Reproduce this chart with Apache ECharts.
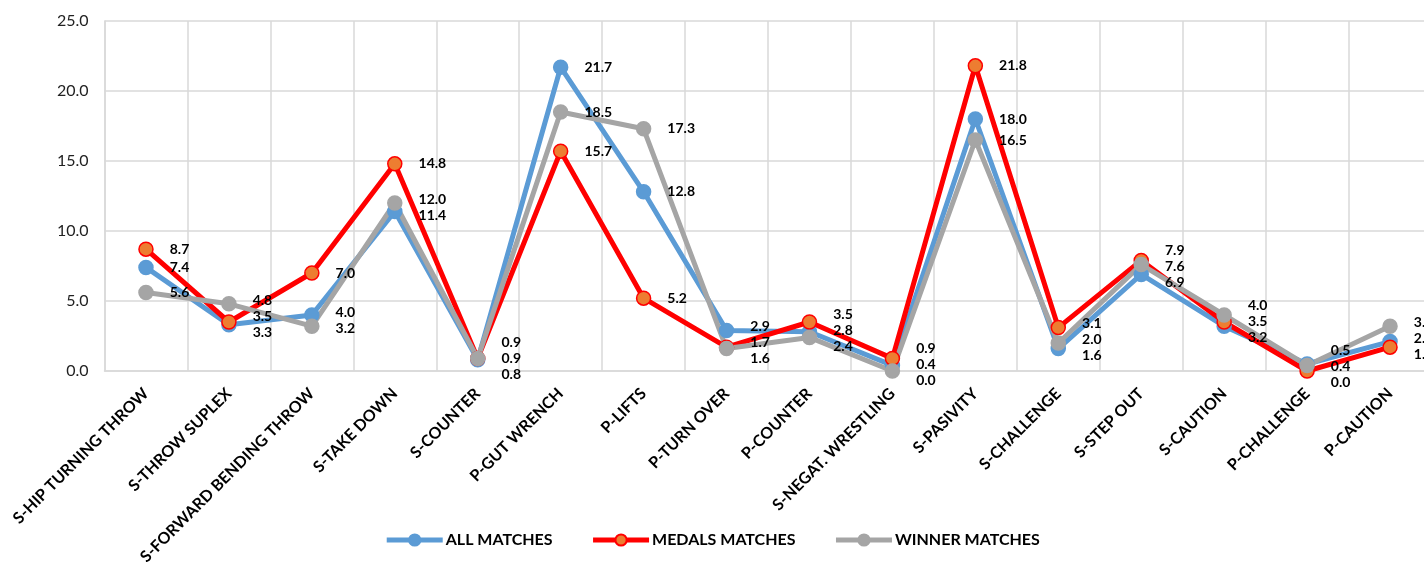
<!DOCTYPE html>
<html>
<head>
<meta charset="utf-8">
<script src="https://cdn.jsdelivr.net/npm/echarts@6/dist/echarts.min.js"></script>
<style>
  html, body { margin: 0; padding: 0; background: #fff; }
  #chart { width: 1424px; height: 563px; }
</style>
</head>
<body>
<div id="chart"></div>
<script>
  var categories = ['S-HIP TURNING THROW', 'S-THROW SUPLEX', 'S-FORWARD BENDING THROW', 'S-TAKE DOWN',
    'S-COUNTER', 'P-GUT WRENCH', 'P-LIFTS', 'P-TURN OVER', 'P-COUNTER', 'S-NEGAT. WRESTLING',
    'S-PASIVITY', 'S-CHALLENGE', 'S-STEP OUT', 'S-CAUTION', 'P-CHALLENGE', 'P-CAUTION']
  var allMatches = [7.4, 3.3, 4.0, 11.4, 0.8, 21.7, 12.8, 2.9, 2.8, 0.4, 18.0, 1.6, 6.9, 3.2, 0.5, 2.1]
  var medalsMatches = [8.7, 3.5, 7.0, 14.8, 0.9, 15.7, 5.2, 1.7, 3.5, 0.9, 21.8, 3.1, 7.9, 3.5, 0.0, 1.7]
  var winnerMatches = [5.6, 4.8, 3.2, 12.0, 0.9, 18.5, 17.3, 1.6, 2.4, 0.0, 16.5, 2.0, 7.6, 4.0, 0.4, 3.2]
  var seriesValues = [allMatches, medalsMatches, winnerMatches]

  var font = 'Lato, "Open Sans", sans-serif'
  var LABEL_H = 16

  var myChart = echarts.init(document.getElementById('chart'))

  // spread the three labels of one category apart so they don't overlap (like excel does)
  var labelShift = {}
  function computeShifts () {
    labelShift = {}
    for (var i = 0; i < categories.length; i++) {
      var items = []
      for (var s = 0; s < seriesValues.length; s++) {
        var py = myChart.convertToPixel({ yAxisIndex: 0 }, seriesValues[s][i])
        items.push({ s: s, y: py })
      }
      items.sort(function (a, b) { return a.y - b.y })
      var clusters = []
      items.forEach(function (it) {
        clusters.push({ items: [it], sum: it.y, start: it.y })
        while (clusters.length > 1) {
          var last = clusters[clusters.length - 1]
          var prev = clusters[clusters.length - 2]
          if (prev.start + prev.items.length * LABEL_H <= last.start) break
          var merged = { items: prev.items.concat(last.items), sum: prev.sum + last.sum }
          var n = merged.items.length
          merged.start = merged.sum / n - (n - 1) * LABEL_H / 2
          clusters.splice(clusters.length - 2, 2, merged)
        }
      })
      clusters.forEach(function (c) {
        c.items.forEach(function (it, k) {
          labelShift[it.s + '_' + i] = c.start + k * LABEL_H - it.y
        })
      })
    }
  }

  function makeSeries (name, data, lineColor, fillColor) {
    return {
      name: name,
      type: 'line',
      data: data,
      symbol: 'circle',
      symbolSize: 14,
      animation: false,
      lineStyle: { color: lineColor, width: 5 },
      itemStyle: { color: fillColor, borderColor: lineColor, borderWidth: 1.5 },
      label: {
        show: true,
        position: 'right',
        distance: 16,
        color: '#000',
        fontWeight: 'bold',
        fontSize: 14,
        fontFamily: font,
        formatter: function (p) { return p.value.toFixed(1) }
      },
      labelLayout: function (params) {
        var d = labelShift[params.seriesIndex + '_' + params.dataIndex] || 0
        return { dy: d }
      }
    }
  }

  var option = {
    backgroundColor: '#fff',
    grid: { left: 104.5, right: -7.5, top: 21, bottom: 192, containLabel: false, outerBoundsMode: 'none' },
    legend: {
      bottom: 10,
      left: 'center',
      itemWidth: 56,
      itemHeight: 14,
      itemGap: 38,
      lineStyle: { width: 5 },
      textStyle: { color: '#000', fontWeight: 'bold', fontSize: 16, fontFamily: font, padding: [0, 0, 0, -2] },
      data: ['ALL MATCHES', 'MEDALS MATCHES', 'WINNER MATCHES']
    },
    xAxis: {
      type: 'category',
      data: categories,
      boundaryGap: true,
      axisTick: { show: false },
      axisLine: { lineStyle: { color: '#D9D9D9', width: 1.5 } },
      splitLine: { show: true, lineStyle: { color: '#D9D9D9', width: 1.5 } },
      axisLabel: {
        interval: 0,
        rotate: 45,
        margin: 20,
        color: '#000',
        fontWeight: 'bold',
        fontSize: 16,
        fontFamily: font
      }
    },
    yAxis: {
      type: 'value',
      min: 0,
      max: 25,
      interval: 5,
      axisLine: { show: true, lineStyle: { color: '#D9D9D9', width: 1.5 } },
      axisTick: { show: false },
      splitLine: { lineStyle: { color: '#D9D9D9', width: 1.5 } },
      axisLabel: {
        margin: 16,
        color: '#222',
        fontSize: 16,
        fontFamily: font,
        formatter: function (v) { return v.toFixed(1) }
      }
    },
    series: [
      makeSeries('ALL MATCHES', allMatches, '#5B9BD5', '#5B9BD5'),
      makeSeries('MEDALS MATCHES', medalsMatches, '#FF0000', '#ED7D31'),
      makeSeries('WINNER MATCHES', winnerMatches, '#A5A5A5', '#A5A5A5')
    ]
  }
  myChart.setOption(option)
  computeShifts()
  myChart.setOption(option, true)
</script>
</body>
</html>
